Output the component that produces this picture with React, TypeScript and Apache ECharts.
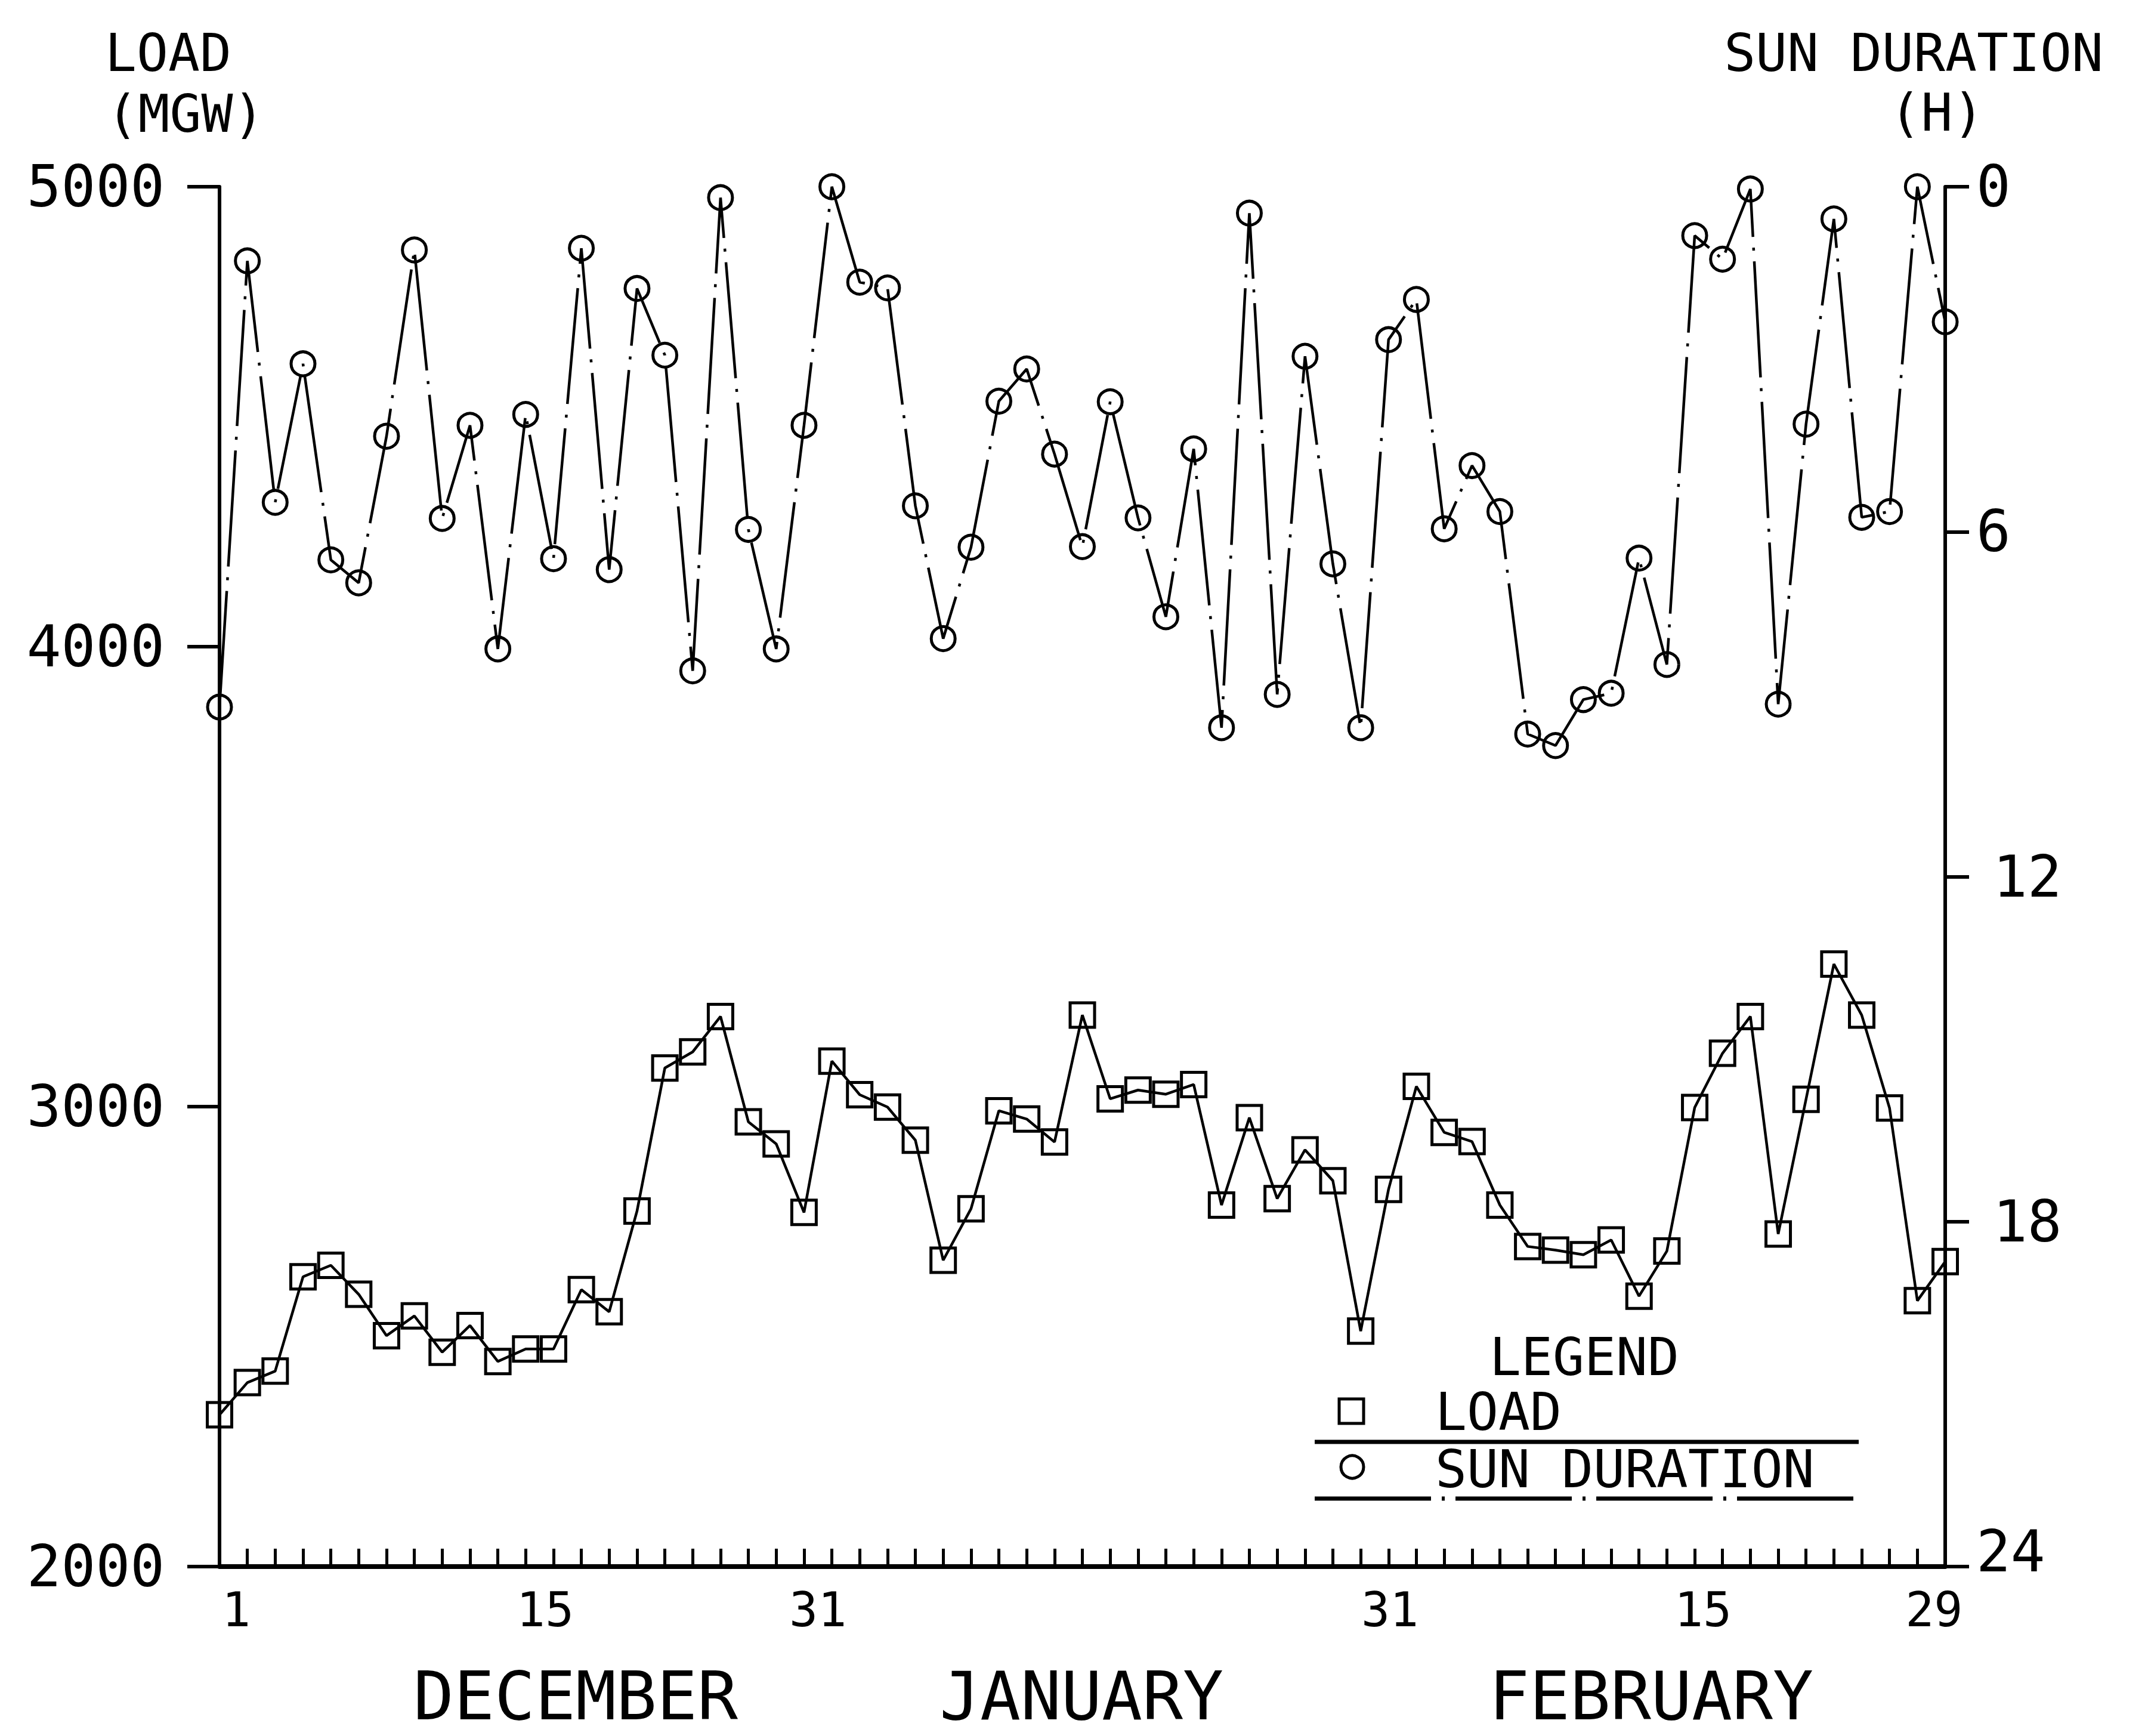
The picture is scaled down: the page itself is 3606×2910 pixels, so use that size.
import React, { useEffect, useRef } from "react";
import * as echarts from "echarts";

// Working-day index along the x axis (one point per plotted day)
const dayIndex: number[] = [
  0, 1, 2, 3, 4, 5, 6, 7, 8, 9, 10, 11, 12, 13, 14, 15, 16, 17, 18, 19, 20,
  21, 22, 23, 24, 25, 26, 27, 28, 29, 30, 31, 32, 33, 34, 35, 36, 37, 38, 39,
  40, 41, 42, 43, 44, 45, 46, 47, 48, 49, 50, 51, 52, 53, 54, 55, 56, 57, 58,
  59, 60, 61, 62,
];

// Daily peak load in MGW
const loadMGW: number[] = [
  2330, 2400, 2425, 2630, 2655, 2592, 2502, 2545, 2466, 2524,
  2446, 2473, 2473, 2602, 2554, 2773, 3084, 3119, 3196, 2967,
  2919, 2770, 3099, 3026, 2999, 2927, 2666, 2778, 2991, 2973,
  2923, 3199, 3017, 3036, 3027, 3048, 2786, 2976, 2800, 2906,
  2839, 2512, 2820, 3044, 2944, 2924, 2786, 2696, 2688, 2678,
  2710, 2588, 2686, 2998, 3116, 3196, 2723, 3016, 3310, 3199,
  2997, 2578, 2663,
];

// Daily sun duration in hours (plotted on the inverted right axis)
const sunHours: number[] = [
  9.05, 1.29, 5.49, 3.08, 6.49, 6.89, 4.34, 1.1, 5.77, 4.15,
  8.04, 3.96, 6.47, 1.07, 6.66, 1.77, 2.93, 8.42, 0.19, 5.96,
  8.04, 4.15, 0.0, 1.66, 1.76, 5.55, 7.86, 6.27, 3.73, 3.17,
  4.65, 6.26, 3.74, 5.76, 7.48, 4.56, 9.41, 0.46, 8.83, 2.95,
  6.56, 9.41, 2.66, 1.96, 5.95, 4.85, 5.65, 9.52, 9.72, 8.92,
  8.81, 6.46, 8.31, 0.85, 1.26, 0.04, 9.0, 4.13, 0.56, 5.75,
  5.65, 0.0, 2.35,
];

// Day-of-month labels and where they sit along the day index
const xLabelPos: number[] = [0.6, 11.7, 21.5, 42.05, 53.3, 61.6];
const xLabelText: string[] = ["1", "15", "31", "31", "15", "29"];

const monthNames: string[] = ["DECEMBER", "JANUARY", "FEBRUARY"];
const leftTitle: string[] = ["LOAD", "(MGW)"];
const rightTitle: string[] = ["SUN DURATION", "(H)"];
const legendTitle = "LEGEND";
const seriesNames: string[] = ["LOAD", "SUN DURATION"];

const FONT_NAME = '"DejaVu Sans Mono", "Liberation Mono", monospace';
const INK = "#000";
const DASH_DOT = [195, 18, 5, 18];

export default function App() {
  const ref = useRef<HTMLDivElement>(null);

  useEffect(() => {
    if (!ref.current) return;
    const chart = echarts.init(ref.current, undefined, { renderer: "svg" });

    const xLabelFor = (v: number) => {
      const k = xLabelPos.findIndex((p) => Math.abs(p - v) < 1e-6);
      return k >= 0 ? xLabelText[k] : "";
    };

    const txt = (
      text: string,
      x: number,
      y: number,
      size: number,
      align: string = "center"
    ) => ({
      type: "text",
      x,
      y,
      silent: true,
      style: {
        text,
        fill: INK,
        font: `${size}px ${FONT_NAME}`,
        align,
        verticalAlign: "middle",
      },
    });

    const tickFont = { color: INK, fontFamily: FONT_NAME, fontSize: 96 };

    const option: any = {
      animation: false,
      backgroundColor: "#fff",
      grid: {
        left: 368,
        right: 345,
        top: 313,
        bottom: 284,
        containLabel: false,
        outerBoundsMode: "none",
      },
      xAxis: {
        type: "value",
        min: 0,
        max: 62,
        interval: 1,
        splitLine: { show: false },
        axisLine: { onZero: false, lineStyle: { color: INK, width: 8 } },
        axisTick: { inside: true, length: 30, lineStyle: { color: INK, width: 5 } },
        axisLabel: {
          customValues: xLabelPos,
          formatter: xLabelFor,
          color: INK,
          fontFamily: FONT_NAME,
          fontSize: 80,
          margin: 32,
          showMinLabel: true,
          showMaxLabel: true,
        },
      },
      yAxis: [
        {
          type: "value",
          position: "left",
          min: 2000,
          max: 5000,
          interval: 1000,
          splitLine: { show: false },
          axisLine: { show: true, onZero: false, lineStyle: { color: INK, width: 6 } },
          axisTick: { show: true, length: 54, lineStyle: { color: INK, width: 6 } },
          axisLabel: {
            ...tickFont,
            margin: 92,
            formatter: (v: number) => String(v),
          },
        },
        {
          type: "value",
          position: "right",
          min: 0,
          max: 24,
          interval: 6,
          inverse: true,
          splitLine: { show: false },
          axisLine: { show: true, onZero: false, lineStyle: { color: INK, width: 6 } },
          axisTick: { show: true, length: 40, lineStyle: { color: INK, width: 6 } },
          axisLabel: {
            ...tickFont,
            margin: 52,
            formatter: (v: number) =>
              v === 24 ? "{low|24}" : v === 12 || v === 18 ? `{wide|${v}}` : String(v),
            rich: {
              low: { ...tickFont, padding: [0, 0, 50, 0] },
              wide: { ...tickFont, padding: [0, 0, 0, 28] },
            },
          },
        },
      ],
      series: [
        {
          name: seriesNames[0],
          type: "line",
          xAxisIndex: 0,
          yAxisIndex: 0,
          data: dayIndex.map((d, i) => [d, loadMGW[i]]),
          symbol: "rect",
          symbolSize: 41,
          clip: false,
          itemStyle: { color: "rgba(0,0,0,0)", borderColor: INK, borderWidth: 5 },
          lineStyle: { color: INK, width: 4.5 },
          emphasis: { disabled: true },
          z: 3,
        },
        {
          name: seriesNames[1],
          type: "line",
          xAxisIndex: 0,
          yAxisIndex: 1,
          data: dayIndex.map((d, i) => [d, sunHours[i]]),
          symbol: "circle",
          symbolSize: 40,
          clip: false,
          itemStyle: { color: "rgba(0,0,0,0)", borderColor: INK, borderWidth: 5 },
          lineStyle: { color: INK, width: 4.5, type: DASH_DOT },
          emphasis: { disabled: true },
          z: 3,
        },
      ],
      graphic: [
        // axis titles
        txt(leftTitle[0], 282, 88, 88),
        txt(leftTitle[1], 311, 190, 88),
        txt(rightTitle[0], 3208, 88, 88),
        txt(rightTitle[1], 3247, 188, 88),
        // month names under the day labels
        txt(monthNames[0], 965, 2843, 113),
        txt(monthNames[1], 1813, 2843, 113),
        txt(monthNames[2], 2768, 2843, 113),
        // legend box
        txt(legendTitle, 2656, 2274, 88),
        {
          type: "rect",
          silent: true,
          shape: { x: 2245, y: 2345, width: 41, height: 41 },
          style: { fill: "none", stroke: INK, lineWidth: 5 },
        },
        txt(seriesNames[0], 2406, 2366, 88, "left"),
        {
          type: "line",
          silent: true,
          shape: { x1: 2204, y1: 2417, x2: 3116, y2: 2417 },
          style: { stroke: INK, lineWidth: 7 },
        },
        {
          type: "circle",
          silent: true,
          shape: { cx: 2267, cy: 2459, r: 19 },
          style: { fill: "none", stroke: INK, lineWidth: 5 },
        },
        txt(seriesNames[1], 2406, 2462, 88, "left"),
        {
          type: "line",
          silent: true,
          shape: { x1: 2204, y1: 2512, x2: 3116, y2: 2512 },
          style: { stroke: INK, lineWidth: 7, lineDash: DASH_DOT },
        },
      ],
    };

    chart.setOption(option);
    return () => chart.dispose();
  }, []);

  return (
    <div
      ref={ref}
      style={{
        position: "absolute",
        left: 0,
        top: 0,
        width: 3606,
        height: 2910,
        background: "#fff",
      }}
    />
  );
}
